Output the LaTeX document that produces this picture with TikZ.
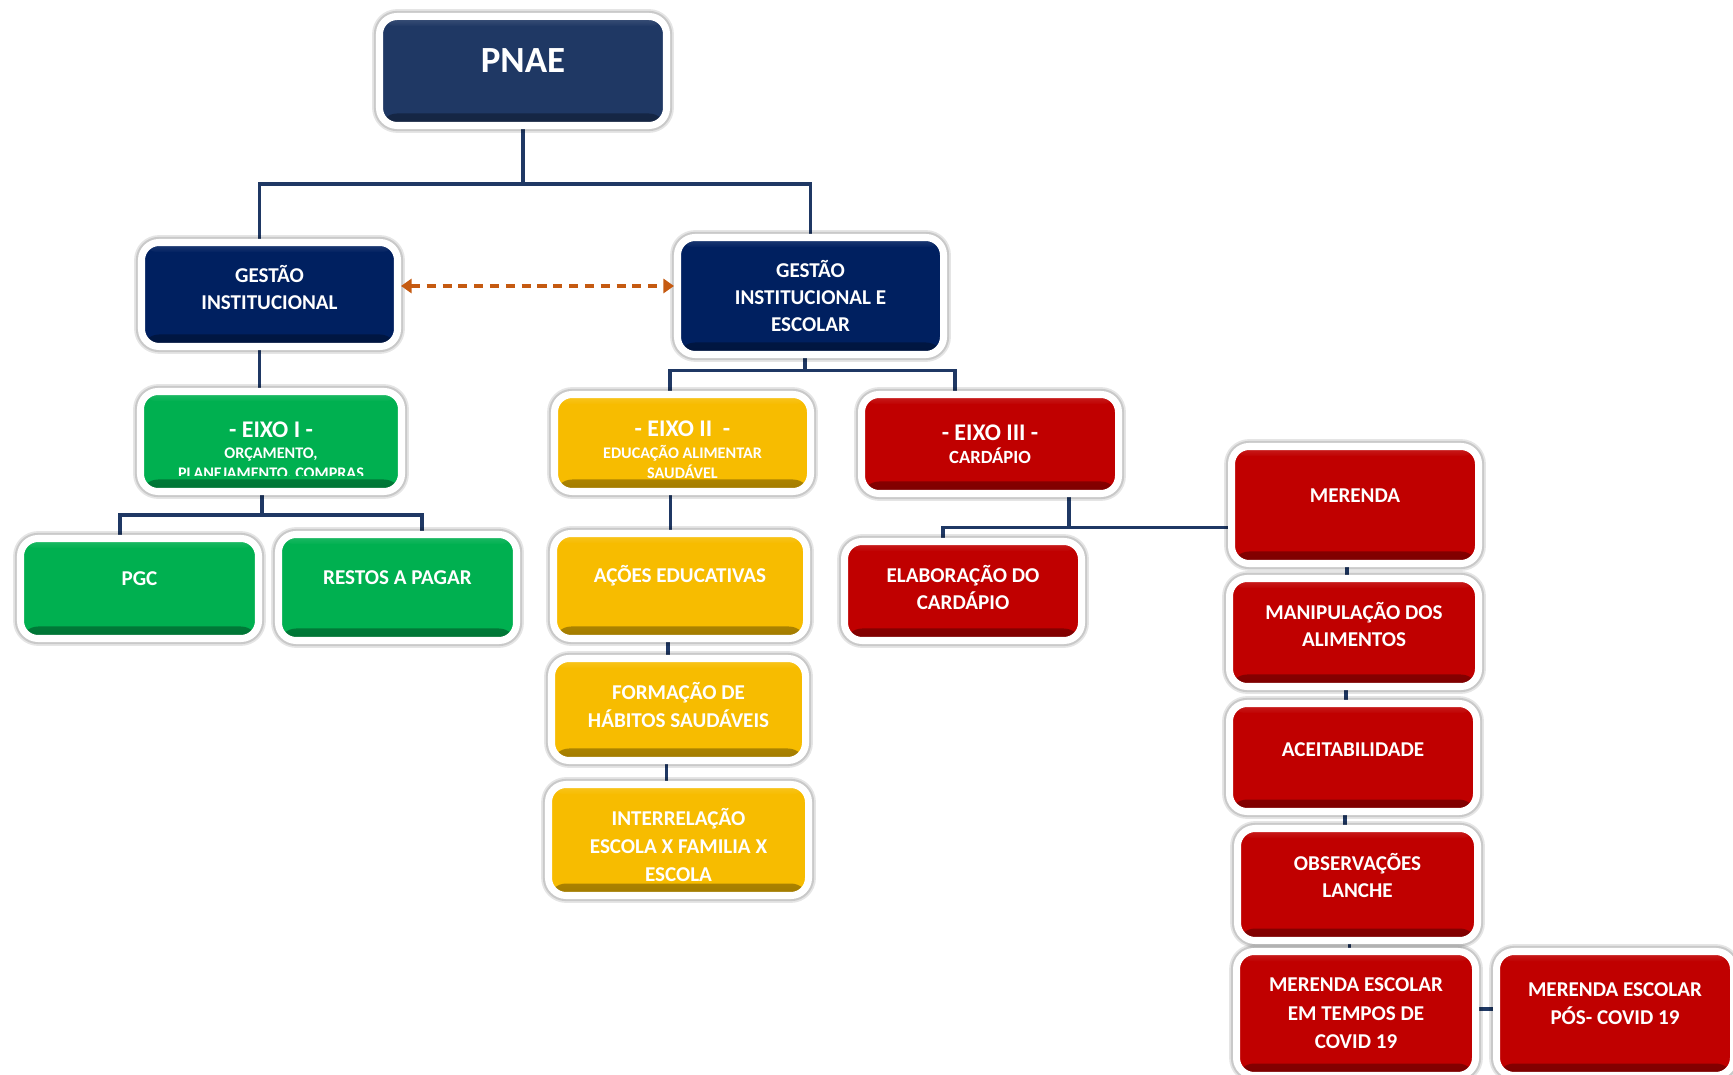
\documentclass[tikz,border=0pt]{standalone}
\usepackage{fontspec}
\setmainfont{Carlito}
\usetikzlibrary{arrows.meta, positioning, calc, backgrounds}

\definecolor{navyA}{RGB}{31, 56, 100}
\definecolor{navyB}{RGB}{0, 32, 96}
\definecolor{eixoG}{RGB}{0, 176, 80}
\definecolor{eixoY}{RGB}{247, 188, 0}
\definecolor{eixoR}{RGB}{192, 0, 0}
\definecolor{linkc}{RGB}{31, 56, 100}
\definecolor{relc}{RGB}{197, 90, 17}

\newcommand{\eixohead}[1]{{\fontsize{6.8}{7}\selectfont #1}}
% text lines, raised by #1 from the box centre
\newcommand{\boxlines}[2][0pt]{\raisebox{\dimexpr#1-1.9pt\relax}[0pt][0pt]{\begin{tabular}{@{}c@{}}#2\end{tabular}}}

\tikzset{
  box/.style={rounded corners=5pt, draw=white, line width=2pt, fill=#1, text=white,
    align=center, inner sep=1pt, font=\bfseries\fontsize{6}{7.7}\selectfont,
    preaction={draw=black, draw opacity=.10, line width=4.2pt},
    preaction={draw=black, draw opacity=.12, line width=3.2pt},
    path picture={
      \shade[top color=#1, bottom color=#1!65!black]
        ([yshift=1.2mm]path picture bounding box.south west) rectangle (path picture bounding box.south east);
      \shade[top color=#1!85!white, bottom color=#1]
        (path picture bounding box.north west) rectangle ([yshift=-1mm]path picture bounding box.north east);
    }},
  sz/.style 2 args={minimum width=#1cm, minimum height=#2cm},
  eixotxt/.style={text=white, align=center, inner sep=0pt, font=\bfseries\fontsize{4.6}{5.7}\selectfont},
  link/.style={draw=linkc, line width=1pt},
  rel/.style={draw=relc, line width=0.9pt, dash pattern=on 2.6pt off 1.9pt,
    {Triangle[length=3pt,width=4pt]}-{Triangle[length=3pt,width=4pt]}},
}

\begin{document}
\begin{tikzpicture}
  \useasboundingbox (0,0) rectangle (17.33,10.74);

  % top levels
  \node[box=navyA, sz={2.87}{1.09}, text depth=5.85pt, font=\bfseries\fontsize{10.5}{12}\selectfont] (pnae) at (5.23,10.03) {PNAE};
  \node[box=navyB, sz={2.56}{1.04}] (gi) at (2.695,7.795) {\boxlines[1.4pt]{GESTÃO\\INSTITUCIONAL}};
  \node[box=navyB, sz={2.66}{1.17}] (gie) at (8.105,7.78) {\boxlines[-0.6pt]{GESTÃO\\INSTITUCIONAL E\\ESCOLAR}};

  % eixos
  \node[box=eixoG, sz={2.61}{1.00}] (eixoI) at (2.71,6.325) {};
  \begin{scope}
    \clip (eixoI.north west) rectangle ([yshift=2mm]eixoI.south east);
    \node[eixotxt, yshift=-1mm] (eixoItxt) at (eixoI.center) {\eixohead{- EIXO I -}\\[0.3pt]ORÇAMENTO,\\PLANEJAMENTO, COMPRAS};
  \end{scope}
  \node[box=eixoY, sz={2.56}{0.97}] (eixoII) at (6.825,6.31) {};
  \node[eixotxt, yshift=-0.65mm] (eixoIItxt) at (eixoII.center) {\eixohead{- EIXO II\ \ -}\\[0.5pt]EDUCAÇÃO ALIMENTAR\\SAUDÁVEL};
  \node[box=eixoR, sz={2.57}{0.99}, font=\bfseries\fontsize{5.3}{6.4}\selectfont] (eixoIII) at (9.90,6.30) {\eixohead{- EIXO III -}\\CARDÁPIO};

  % eixo I
  \node[box=eixoG, sz={2.38}{1.00}] (pgc) at (1.395,4.855) {\boxlines[2.8pt]{PGC}};
  \node[box=eixoG, sz={2.38}{1.06}] (restos) at (3.975,4.865) {\boxlines[2.8pt]{RESTOS A PAGAR}};

  % eixo II
  \node[box=eixoY, sz={2.53}{1.05}] (acoes) at (6.80,4.88) {\boxlines[2.85pt]{AÇÕES EDUCATIVAS}};
  \node[box=eixoY, sz={2.54}{1.02}] (formacao) at (6.785,3.645) {\boxlines[0.8pt]{FORMAÇÃO DE\\HÁBITOS SAUDÁVEIS}};
  \node[box=eixoY, sz={2.60}{1.11}] (inter) at (6.785,2.34) {\boxlines[-2pt]{INTERRELAÇÃO\\[0.3pt]ESCOLA X FAMILIA X\\[0.3pt]ESCOLA}};

  % eixo III
  \node[box=eixoR, sz={2.37}{0.99}] (elab) at (9.63,4.83) {\boxlines[0.5pt]{ELABORAÇÃO DO\\CARDÁPIO}};
  \node[box=eixoR, sz={2.47}{1.17}] (merenda) at (13.55,5.69) {\boxlines[2.6pt]{MERENDA}};
  \node[box=eixoR, sz={2.49}{1.08}] (manip) at (13.54,4.415) {\boxlines[1.7pt]{MANIPULAÇÃO DOS\\ALIMENTOS}};
  \node[box=eixoR, sz={2.47}{1.08}] (aceit) at (13.53,3.165) {\boxlines[2.2pt]{ACEITABILIDADE}};
  \node[box=eixoR, sz={2.40}{1.12}] (obs) at (13.575,1.895) {\boxlines[2pt]{OBSERVAÇÕES\\LANCHE}};
  \node[box=eixoR, sz={2.39}{1.24}] (tempos) at (13.56,0.605) {\boxlines[0pt]{MERENDA ESCOLAR\\[0.4pt]EM TEMPOS DE\\[0.4pt]COVID 19}};
  \node[box=eixoR, sz={2.37}{1.24}] (poscovid) at (16.15,0.605) {\boxlines[2.8pt]{MERENDA ESCOLAR\\PÓS- COVID 19}};

  % connectors
  \begin{scope}[on background layer]
    \draw[link] (pnae.south) -- ++(0,-0.55) coordinate (j0);
    \draw[link] ([xshift=-1mm]gi.north) |- (j0) -| (gie.north);
    \draw[link] ([xshift=-1mm]gi.south) -- ([xshift=-1mm]gi.south |- eixoI.north);
    \draw[link] ([xshift=-0.9mm]eixoI.south) -- ++(0,-0.2) coordinate (j1);
    \draw[link] ([xshift=-1.95mm]pgc.north) |- (j1) -| ([xshift=2.45mm]restos.north);
    \draw[link] ([xshift=-0.55mm]gie.south) -- ++(0,-0.125) coordinate (j2);
    \draw[link] ([xshift=-1.25mm]eixoII.north) |- (j2) -| ([xshift=-3.5mm]eixoIII.north);
    \foreach \a/\b in {eixoII/acoes, acoes/formacao, formacao/inter}
      \draw[link] ([xshift=-1.2mm]\a.south) -- ([xshift=-1.2mm]\a.south |- \b.north);
    \draw[link] ([xshift=7.9mm]eixoIII.south) -- ++(0,-0.305) coordinate (j3);
    \draw[link] ([xshift=-2mm]elab.north) |- (j3) -- (j3 -| merenda.west);
    \foreach \a/\b in {merenda/manip, manip/aceit, aceit/obs, obs/tempos}
      \draw[link] ([xshift=-0.8mm]\a.south) -- ([xshift=-0.8mm]\a.south |- \b.north);
    \draw[link] ([yshift=0.45mm]tempos.east) -- ([yshift=0.45mm]tempos.east -| poscovid.west);
  \end{scope}

  % gestao link
  \draw[rel] ([yshift=0.85mm]gi.east) -- ([yshift=0.85mm]gi.east -| gie.west);
\end{tikzpicture}
\end{document}
